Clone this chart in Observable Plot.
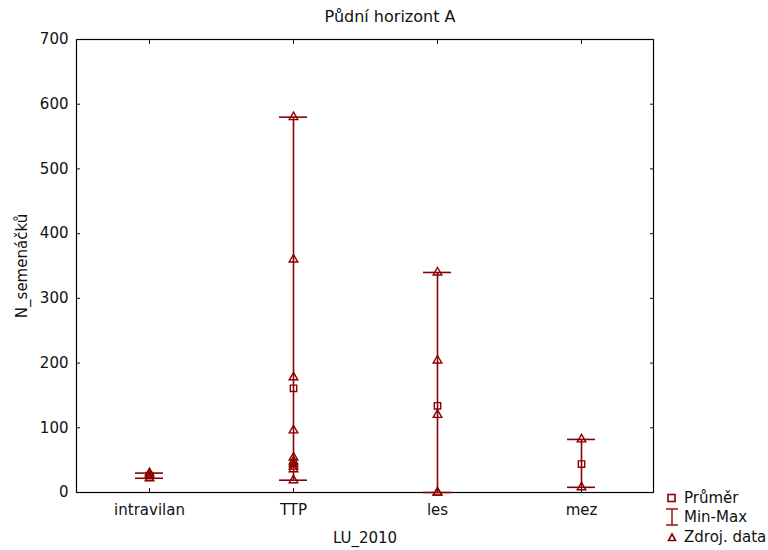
<!DOCTYPE html>
<html>
<head>
<meta charset="utf-8">
<script src="https://cdn.jsdelivr.net/npm/d3@7"></script>
<script src="https://cdn.jsdelivr.net/npm/@observablehq/plot@0.6"></script>
<style>
  body { margin: 0; background: #fff; }
  #wrap { position: relative; width: 768px; height: 550px; font-family: "DejaVu Sans", sans-serif; }
  #title { position: absolute; left: 0; width: 780px; top: 7px; text-align: center; font-size: 16px; color: #111; }
  #legend { position: absolute; left: 664px; top: 488px; font-size: 15px; color: #111; }
  #legend div { height: 19.5px; display: flex; align-items: center; }
  #legend svg { width: 16px; height: 18px; margin-right: 4px; }
</style>
</head>
<body>
<div id="wrap">
  <div id="title">Půdní horizont A</div>
  <div id="chart"></div>
  <div id="legend"></div>
</div>
<script>
const categories = ["intravilan", "TTP", "les", "mez"];
const minValues = [22, 19, 0, 8];
const maxValues = [30, 580, 340, 82];
const meanValues = [26, 161, 134, 44];
const rawData = {
  intravilan: [30, 22, 27],
  TTP: [580, 360, 178, 96, 54, 48, 44, 40, 36, 19],
  les: [340, 204, 120, 0, 0],
  mez: [82, 8]
};
const yTicks = [0, 100, 200, 300, 400, 500, 600, 700];

const color = "#8b0000";
const font = "DejaVu Sans, sans-serif";

const summary = categories.map((c, i) => ({cat: c, min: minValues[i], max: maxValues[i], mean: meanValues[i]}));
const points = categories.flatMap(c => rawData[c].map(v => ({cat: c, v})));

const chart = Plot.plot({
  width: 768,
  height: 550,
  marginLeft: 76,
  marginRight: 115,
  marginTop: 39,
  marginBottom: 58,
  style: {fontFamily: font, fontSize: "15px", color: "#111", background: "white", overflow: "visible"},
  x: {type: "band", domain: categories, padding: 0},
  y: {domain: [0, 700]},
  marks: [
    Plot.frame({stroke: "#000", strokeWidth: 1.2}),
    // labels
    Plot.axisY({ticks: yTicks, tickSize: 0, tickPadding: 8, fontSize: 15, label: "N_semenáčků", labelAnchor: "center", labelOffset: 60, labelArrow: "none"}),
    Plot.axisX({tickSize: 0, tickPadding: 12, fontSize: 15, label: "LU_2010", labelAnchor: "center", labelOffset: 50, labelArrow: "none"}),
    // inner ticks
    Plot.axisY({ticks: yTicks, anchor: "left", tickSize: 4, dx: 4, tickFormat: () => "", label: null}),
    Plot.axisY({ticks: yTicks, anchor: "right", tickSize: 4, dx: -4, tickFormat: () => "", label: null}),
    Plot.axisX({anchor: "bottom", tickSize: 4, dy: -4, tickFormat: () => "", label: null}),
    Plot.axisX({anchor: "top", tickSize: 4, dy: 4, tickFormat: () => "", label: null}),
    // min-max whiskers
    Plot.ruleX(summary, {x: "cat", y1: "min", y2: "max", stroke: color, strokeWidth: 1.6}),
    Plot.tickY(summary, {x: "cat", y: "min", stroke: color, strokeWidth: 1.6, insetLeft: 58, insetRight: 58}),
    Plot.tickY(summary, {x: "cat", y: "max", stroke: color, strokeWidth: 1.6, insetLeft: 58, insetRight: 58}),
    // raw data triangles
    Plot.dot(points, {x: "cat", y: "v", symbol: "triangle", r: 3.2, stroke: color, strokeWidth: 1.4, fill: "none"}),
    // means
    Plot.dot(summary, {x: "cat", y: "mean", symbol: "square", r: 3.6, stroke: color, strokeWidth: 1.4, fill: "none"})
  ]
});
document.getElementById("chart").appendChild(chart);

const legendItems = [
  {label: "Průměr", svg: `<rect x="4" y="5.5" width="7" height="7" fill="none" stroke="${color}" stroke-width="1.6"/>`},
  {label: "Min-Max", svg: `<line x1="8" y1="1" x2="8" y2="17" stroke="${color}" stroke-width="1.4"/><line x1="2" y1="1" x2="14" y2="1" stroke="${color}" stroke-width="1.4"/><line x1="2" y1="17" x2="14" y2="17" stroke="${color}" stroke-width="1.4"/>`},
  {label: "Zdroj. data", svg: `<path d="M8,6 L11.5,12.5 L4.5,12.5 Z" fill="none" stroke="${color}" stroke-width="1.6"/>`}
];
const legend = document.getElementById("legend");
legendItems.forEach(it => {
  const d = document.createElement("div");
  d.innerHTML = `<svg viewBox="0 0 16 18">${it.svg}</svg><span>${it.label}</span>`;
  legend.appendChild(d);
});
</script>
</body>
</html>
